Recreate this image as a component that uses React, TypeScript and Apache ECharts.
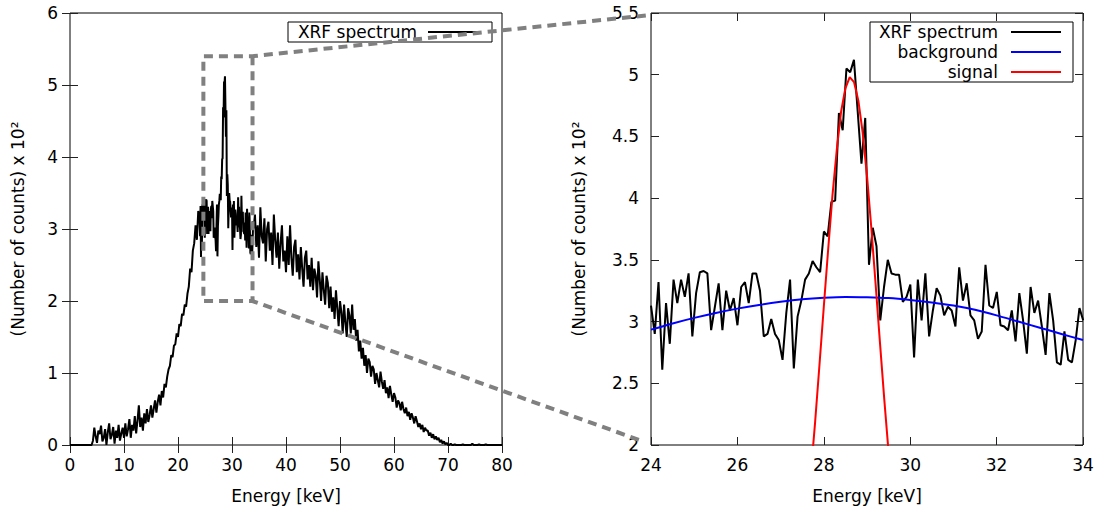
import React, { useEffect, useRef } from "react";
import * as echarts from "echarts";

const FONT = "DejaVu Sans";

// ---------- data (counts x 10^2) ----------
// full spectrum, low part: 0 .. 23.75 keV, 0.25 keV bins
const lowStart = 0;
const lowStep = 0.25;
const lowCounts = [
  0, 0, 0, 0, 0, 0, 0, 0, 0, 0, 0, 0, 0, 0, 0, 0, 0,
  0.06, 0.24, 0.12, 0.03, 0.2, 0.15, 0.27, 0.05, 0.1, 0.22, 0.0, 0.18,
  0.3, 0.08, 0.14, 0.25, 0.02, 0.2, 0.1, 0.28, 0.06, 0.16, 0.24, 0.1,
  0.3, 0.12, 0.22, 0.36, 0.1, 0.28, 0.2, 0.4, 0.16, 0.34, 0.55, 0.25, 0.38, 0.2, 0.44, 0.3,
  0.5, 0.32, 0.42, 0.55, 0.38, 0.5, 0.62, 0.45, 0.6, 0.7, 0.55, 0.75, 0.66, 0.85, 0.8, 0.95,
  1.05, 1.1, 1.25, 1.22, 1.38, 1.4, 1.55, 1.5, 1.68, 1.65, 1.82, 1.8, 1.95, 1.92, 2.1, 2.2,
  2.45, 2.4, 2.7, 2.8, 3.05, 2.85, 3.25,
];

// zoomed region: 24 .. 34 keV, fine bins
const detailStart = 24;
const detailStep = 0.087;
const detailCounts = [
  3.13, 2.9, 3.32, 2.61, 3.15, 2.82, 3.34, 3.15, 3.34, 3.2, 3.39, 2.88, 3.23, 3.4, 3.41, 3.39,
  2.93, 3.12, 3.31, 2.93, 3.25, 3.09, 3.19, 2.97, 3.28, 3.32, 3.15, 3.39, 3.39,
  3.25, 2.88, 2.9, 3.02, 2.9, 2.85, 2.69, 3.07, 3.34, 2.62, 3.04, 3.17, 3.34, 3.39, 3.49, 3.44,
  3.4, 3.73, 3.69, 3.97, 3.98, 4.69, 4.55, 5.05, 5.02, 5.12, 4.7, 4.28, 4.65, 3.46,
  3.76, 3.61, 3.01, 3.28, 3.5, 3.39, 3.38, 3.38, 3.16, 3.2, 3.3, 2.71, 3.34, 3.01, 3.39, 2.88,
  3.09, 3.27, 3.21, 3.05, 3.12, 3.09, 2.96, 3.44, 3.17, 3.31, 3.05, 3.01,
  2.86, 2.92, 3.46, 3.13, 3.11, 3.24, 2.97, 2.96, 2.93, 3.09, 2.84, 3.23, 3.01, 2.74, 3.28, 3.07,
  3.17, 2.96, 2.73, 3.23, 3.01, 2.67, 2.65, 2.92, 2.69, 2.67, 2.85, 3.11, 3.01,
];

// full spectrum, high part: 34.25 .. 80 keV, 0.25 keV bins
const highStart = 34.25;
const highStep = 0.25;
const highCounts = [
  3.2, 2.75, 3.05, 2.6, 3.3, 2.9, 2.8, 3.15,
  2.55, 3.0, 3.1, 2.7, 2.95, 2.5, 3.2, 2.85,
  2.6, 2.95, 2.45, 2.8, 3.05, 2.55, 2.7, 2.4,
  2.9, 2.5, 3.05, 2.6, 2.35, 2.75, 2.85, 2.4,
  2.65, 2.3, 2.75, 2.45, 2.2, 2.6, 2.7, 2.3,
  2.5, 2.2, 2.6, 2.15, 2.45, 2.35, 2.05, 2.55,
  2.3, 2.0, 2.4, 2.15, 1.95, 2.35, 2.25, 1.9,
  2.2, 1.85, 2.05, 1.75, 2.15, 1.9, 1.65, 2.0,
  1.85, 1.55, 1.95, 1.7, 1.5, 1.9, 1.8, 1.55,
  1.95, 1.6, 1.75, 1.45, 1.6, 1.3, 1.45, 1.2,
  1.35, 1.1, 1.25, 1.0, 1.2, 1.15, 0.95, 1.1,
  1.05, 0.85, 1.0, 0.9, 0.8, 1.02, 0.88, 0.78,
  0.9, 0.72, 0.8, 0.65, 0.82, 0.7, 0.6, 0.72,
  0.66, 0.52, 0.62, 0.58, 0.48, 0.6, 0.5, 0.44,
  0.52, 0.4, 0.46, 0.35, 0.44, 0.38, 0.3, 0.4,
  0.33, 0.25, 0.3, 0.22, 0.28, 0.18, 0.24, 0.2,
  0.2, 0.13, 0.17, 0.1, 0.15, 0.08, 0.12, 0.07,
  0.1, 0.04, 0.07, 0.02, 0.05, 0.01, 0.03, 0.0,
  0.0, 0.02, 0.0, 0.0, 0.01, 0.0, 0.0, 0.0,
  0.0, 0.0, 0.01, 0.0, 0.0, 0.0, 0.0, 0.0,
  0.0, 0.02, 0.0, 0.0, 0.0, 0.0, 0.01, 0.0,
  0.0, 0.0, 0.0, 0.01, 0.0, 0.0, 0.0, 0.0,
  0.0, 0.0, 0.0, 0.0, 0.0, 0.0, 0.0, 0.0,
];

// fitted background
const bgEnergy = [24, 24.5, 25, 25.5, 26, 26.5, 27, 27.5, 28, 28.5, 29, 29.5, 30, 30.5, 31, 31.5, 32, 32.5, 33, 33.5, 34];
const bgCounts = [2.935, 2.985, 3.03, 3.07, 3.105, 3.135, 3.16, 3.18, 3.193, 3.2, 3.197, 3.19, 3.175, 3.155, 3.13, 3.095, 3.05, 3.0, 2.95, 2.9, 2.85];

// fitted signal peak
const sigEnergy = [27.6, 27.7, 27.8, 27.9, 28.0, 28.1, 28.2, 28.3, 28.4, 28.5, 28.6, 28.7, 28.8, 28.9, 29.0, 29.1, 29.2, 29.3, 29.4, 29.5, 29.6];
const sigCounts = [1.4, 1.77, 2.19, 2.65, 3.12, 3.58, 4.02, 4.39, 4.7, 4.89, 4.98, 4.94, 4.79, 4.53, 4.18, 3.76, 3.3, 2.83, 2.37, 1.94, 1.54];

// axis ranges
const leftX = { min: 0, max: 80, interval: 10 };
const leftY = { min: 0, max: 6, interval: 1 };
const rightX = { min: 24, max: 34, interval: 2 };
const rightY = { min: 2, max: 5.5, interval: 0.5 };

// zoom box drawn on the left panel and where connectors meet the right panel
const zoomBox = { x0: 24.7, x1: 33.8, y0: 2.0, y1: 5.4 };
const connTop = [23.88, 5.48];
const connBottom = [23.81, 2.03];

const seriesNames = ["XRF spectrum", "background", "signal"];
const seriesColors = ["#000000", "#0000ff", "#ff0000"];

const axisTitleX = "Energy [keV]";
const axisTitleY = "(Number of counts) x 10²";

// ---------- build ----------
const pairs = (start: number, step: number, vals: number[]) =>
  vals.map((v, i) => [+(start + i * step).toFixed(4), v]);
const zip = (xs: number[], ys: number[]) => xs.map((x, i) => [x, ys[i]]);

const fullSpectrum = [
  ...pairs(lowStart, lowStep, lowCounts),
  ...pairs(detailStart, detailStep, detailCounts),
  ...pairs(highStart, highStep, highCounts),
];
const zoomSpectrum = pairs(detailStart, detailStep, detailCounts);

const textBase = { color: "#000", fontFamily: FONT, fontSize: 17 };
const tickStyle = { inside: true, length: 8, lineStyle: { color: "#222", width: 1 } };

function xAxes(grid: number, r: { min: number; max: number; interval: number }) {
  return [
    {
      type: "value", gridIndex: grid, position: "bottom", ...r,
      axisLine: { show: false }, splitLine: { show: false },
      axisTick: tickStyle,
      axisLabel: { ...textBase, margin: 11 },
      name: axisTitleX, nameLocation: "middle", nameGap: 42,
      nameTextStyle: { ...textBase },
    },
    {
      type: "value", gridIndex: grid, position: "top", ...r,
      axisLine: { show: false }, splitLine: { show: false },
      axisTick: tickStyle, axisLabel: { show: false },
    },
  ];
}
function yAxes(grid: number, r: { min: number; max: number; interval: number }, gap: number) {
  return [
    {
      type: "value", gridIndex: grid, position: "left", ...r,
      axisLine: { show: false }, splitLine: { show: false },
      axisTick: tickStyle,
      axisLabel: { ...textBase, margin: 12 },
      name: axisTitleY, nameLocation: "middle", nameGap: gap,
      nameTextStyle: { ...textBase },
    },
    {
      type: "value", gridIndex: grid, position: "right", ...r,
      axisLine: { show: false }, splitLine: { show: false },
      axisTick: tickStyle, axisLabel: { show: false },
    },
  ];
}

const option = {
  animation: false,
  backgroundColor: "#ffffff",
  grid: [
    { left: 70, top: 13, width: 432, height: 432, show: true, borderColor: "#000", borderWidth: 1, backgroundColor: "transparent" },
    { left: 651, top: 13, width: 432, height: 432, show: true, borderColor: "#000", borderWidth: 1, backgroundColor: "transparent" },
  ],
  xAxis: [...xAxes(0, leftX), ...xAxes(1, rightX)],
  yAxis: [...yAxes(0, leftY, 44), ...yAxes(1, rightY, 64)],
  series: [
    {
      type: "line", name: seriesNames[0], xAxisIndex: 0, yAxisIndex: 0,
      data: fullSpectrum, showSymbol: false, symbol: "none",
      lineStyle: { color: seriesColors[0], width: 2 }, z: 3,
    },
    {
      type: "line", name: seriesNames[0], xAxisIndex: 2, yAxisIndex: 2,
      data: zoomSpectrum, showSymbol: false, symbol: "none",
      lineStyle: { color: seriesColors[0], width: 2 }, z: 3,
    },
    {
      type: "line", name: seriesNames[1], xAxisIndex: 2, yAxisIndex: 2,
      data: zip(bgEnergy, bgCounts), showSymbol: false, symbol: "none", smooth: 0.3,
      lineStyle: { color: seriesColors[1], width: 2 }, z: 4,
    },
    {
      type: "line", name: seriesNames[2], xAxisIndex: 2, yAxisIndex: 2,
      data: zip(sigEnergy, sigCounts), showSymbol: false, symbol: "none",
      lineStyle: { color: seriesColors[2], width: 2 }, z: 5,
    },
  ],
};

function legendGraphics(box: { x: number; y: number; w: number; h: number }, textRight: number, lineX1: number, lineX2: number, items: number[]) {
  const els: any[] = [
    { type: "rect", shape: { x: box.x, y: box.y, width: box.w, height: box.h }, style: { fill: "#fff", stroke: "#000", lineWidth: 1 }, z: 50 },
  ];
  items.forEach((si, i) => {
    const cy = box.y + 10 + i * 20;
    els.push({
      type: "text", z: 51,
      style: { text: seriesNames[si], x: textRight, y: cy, align: "right", verticalAlign: "middle", fill: "#000", fontSize: 17, fontFamily: FONT },
    });
    els.push({
      type: "line", z: 51,
      shape: { x1: lineX1, y1: cy, x2: lineX2, y2: cy },
      style: { stroke: seriesColors[si], lineWidth: 2 },
    });
  });
  return els;
}

export default function App() {
  const ref = useRef<HTMLDivElement>(null);
  useEffect(() => {
    if (!ref.current) return;
    const chart = echarts.init(ref.current, null, { renderer: "svg" });
    chart.setOption(option as any);

    const L = (p: number[]) => chart.convertToPixel({ xAxisIndex: 0, yAxisIndex: 0 } as any, p) as number[];
    const R = (p: number[]) => chart.convertToPixel({ xAxisIndex: 2, yAxisIndex: 2 } as any, p) as number[];
    const TL = L([zoomBox.x0, zoomBox.y1]);
    const TR = L([zoomBox.x1, zoomBox.y1]);
    const BL = L([zoomBox.x0, zoomBox.y0]);
    const BR = L([zoomBox.x1, zoomBox.y0]);
    const PT = R(connTop);
    const PB = R(connBottom);
    const dash = { stroke: "#808080", lineWidth: 4, lineDash: [9, 6], lineJoin: "round", fill: null };

    chart.setOption({
      graphic: [
        ...legendGraphics({ x: 288, y: 22, w: 204, h: 20 }, 417, 428, 478, [0]),
        ...legendGraphics({ x: 870, y: 22, w: 203, h: 60 }, 998, 1011, 1061, [0, 1, 2]),
        { type: "polyline", z: 60, shape: { points: [PT, TR, TL, BL, BR, PB] }, style: dash },
        { type: "line", z: 60, shape: { x1: TR[0], y1: TR[1], x2: BR[0], y2: BR[1] }, style: dash },
      ],
    });
    return () => chart.dispose();
  }, []);
  return <div ref={ref} style={{ position: "absolute", left: 0, top: 0, width: 1105, height: 512 }} />;
}
